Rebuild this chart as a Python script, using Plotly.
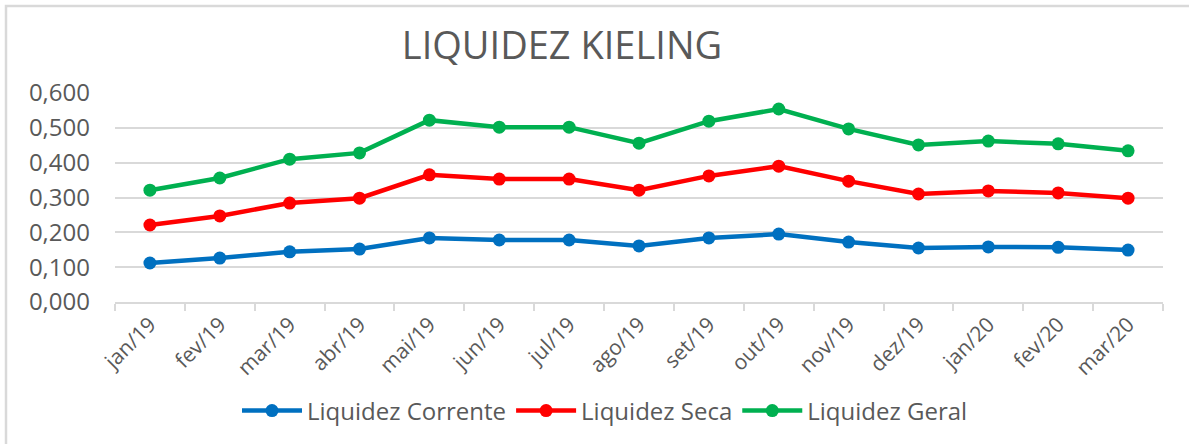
import plotly.graph_objects as go

categories = ["jan/19", "fev/19", "mar/19", "abr/19", "mai/19", "jun/19", "jul/19", "ago/19",
              "set/19", "out/19", "nov/19", "dez/19", "jan/20", "fev/20", "mar/20"]
liquidez_corrente = [0.112, 0.126, 0.144, 0.152, 0.184, 0.178, 0.178, 0.161,
                     0.184, 0.195, 0.172, 0.155, 0.158, 0.157, 0.149]
liquidez_seca = [0.221, 0.247, 0.284, 0.298, 0.365, 0.353, 0.353, 0.321,
                 0.362, 0.390, 0.347, 0.310, 0.319, 0.313, 0.298]
liquidez_geral = [0.321, 0.356, 0.410, 0.428, 0.522, 0.502, 0.502, 0.456,
                  0.519, 0.554, 0.497, 0.451, 0.462, 0.454, 0.434]
y_ticks = [0.0, 0.1, 0.2, 0.3, 0.4, 0.5, 0.6]

series = [
    ("Liquidez Corrente", liquidez_corrente, "#0070C0"),
    ("Liquidez Seca", liquidez_seca, "#FF0000"),
    ("Liquidez Geral", liquidez_geral, "#00B050"),
]

W, H = 1189, 444
X0, X1, Y0, Y1 = 115, 1163, 93, 302  # plot area on screen
pw, ph = X1 - X0, Y1 - Y0
L, T = X0, Y0
R, B = W - L - pw, H - T - ph

def px_x(p):
    return (p - X0) / pw

def px_y(p):
    return (Y1 - p) / ph

fig = go.Figure()
for name, vals, color in series:
    fig.add_trace(go.Scatter(
        x=categories, y=vals, name=name, mode="lines+markers",
        line=dict(color=color, width=4.5),
        marker=dict(color=color, size=13),
    ))

font_family = "Open Sans, DejaVu Sans, sans-serif"
fig.update_layout(
    width=W, height=H,
    margin=dict(l=L, r=R, t=T, b=B, autoexpand=False),
    paper_bgcolor="white", plot_bgcolor="white",
    separators=",.",
    font=dict(family=font_family, color="#595959"),
    title=dict(text="LIQUIDEZ KIELING", x=562 / W, xanchor="center",
               y=1 - 46 / H, yanchor="middle", xref="container", yref="container",
               font=dict(size=38, color="#595959", family=font_family)),
    xaxis=dict(
        type="category", range=[-0.5, 14.5],
        tickangle=-45, tickfont=dict(size=21, color="#595959"),
        showline=True, linecolor="#d9d9d9", linewidth=2,
        ticks="outside", tickson="boundaries", ticklen=7, tickcolor="#d9d9d9", tickwidth=2,
        showgrid=False, automargin=False,
    ),
    yaxis=dict(
        range=[0, 0.6], tickvals=y_ticks, tickformat=".3f",
        tickfont=dict(size=24, color="#595959"),
        showgrid=True, gridcolor="#d9d9d9", gridwidth=2,
        zeroline=False, showline=False, ticks="", ticklen=0, automargin=False,
        ticklabelstandoff=24,
    ),
    legend=dict(
        orientation="h", x=px_x(605), xanchor="center", y=px_y(411), yanchor="middle",
        font=dict(size=24, color="#595959"), itemwidth=60,
        traceorder="normal",
    ),
    showlegend=True,
)

fig.add_shape(type="rect", xref="paper", yref="paper",
              x0=px_x(6), x1=px_x(1200), y0=px_y(455), y1=px_y(6),
              line=dict(color="#d9d9d9", width=2.5), fillcolor="rgba(0,0,0,0)",
              layer="below")

fig.write_html("out.html", config={"displayModeBar": False},
               post_script="document.body.style.margin='0';")
